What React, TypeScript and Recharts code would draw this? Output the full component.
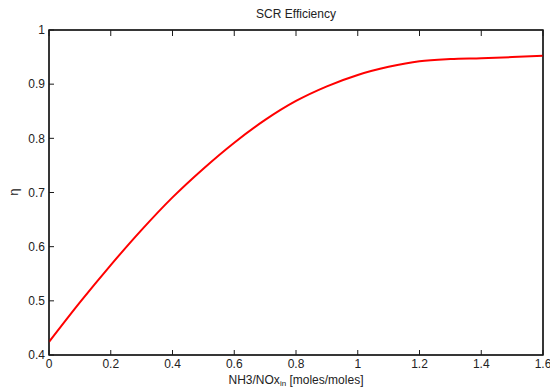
import React from "react";
import { LineChart, Line, XAxis, YAxis, Label, ReferenceArea } from "recharts";

const ratio = [0, 0.1, 0.2, 0.3, 0.4, 0.5, 0.6, 0.7, 0.8, 0.9, 1.0, 1.1, 1.2, 1.3, 1.4, 1.5, 1.6];
const eta = [0.424, 0.497, 0.566, 0.631, 0.691, 0.744, 0.792, 0.834, 0.869, 0.896, 0.917, 0.932, 0.9425, 0.9465, 0.948, 0.950, 0.9525];

const xTicks = [0, 0.2, 0.4, 0.6, 0.8, 1, 1.2, 1.4, 1.6];
const yTicks = [0.4, 0.5, 0.6, 0.7, 0.8, 0.9, 1];

const data = ratio.map((r, i) => ({ r, eta: eta[i] }));

const FONT = "'Liberation Sans', Arial, Helvetica, sans-serif";
const AX = "#1a1a1a";

const fmt = (v: number) => String(Math.round(v * 10) / 10);
const blank = () => "";

export default function App() {
  return (
    <div style={{ position: "absolute", left: 0, top: 0, width: 550, height: 389, background: "#fff" }}>
      <LineChart
        width={550}
        height={389}
        data={data}
        margin={{ top: 29, right: 6, bottom: 4, left: 9 }}
        style={{ fontFamily: FONT }}
      >
        <XAxis
          dataKey="r"
          type="number"
          domain={[0, 1.6]}
          ticks={xTicks}
          tickFormatter={fmt}
          allowDataOverflow
          height={30}
          tickSize={-5}
          tickMargin={9}
          stroke={AX}
          axisLine={true}
          tickLine={true}
          tick={{ fill: "#222", fontSize: 12, fontFamily: FONT }}
          interval={0}
        >
          <Label
            content={(props: any) => {
              const vb = props.viewBox || {};
              const cx = vb.x + vb.width / 2;
              return (
                <text x={cx} y={384} textAnchor="middle" fontSize={12} fill="#222" fontFamily={FONT}>
                  NH3/NOx
                  <tspan fontSize={8} dy={2}>in</tspan>
                  <tspan dy={-2}> [moles/moles]</tspan>
                </text>
              );
            }}
          />
        </XAxis>
        <XAxis
          xAxisId="top"
          dataKey="r"
          type="number"
          orientation="top"
          domain={[0, 1.6]}
          ticks={xTicks}
          height={1}
          tickSize={-6}
          tickFormatter={blank}
          stroke={AX}
          axisLine={true}
          tickLine={true}
          interval={0}
        >
          <Label
            content={(props: any) => {
              const vb = props.viewBox || {};
              const cx = vb.x + vb.width / 2;
              return (
                <text x={cx} y={18} textAnchor="middle" fontSize={12} fill="#222" fontFamily={FONT}>
                  SCR Efficiency
                </text>
              );
            }}
          />
        </XAxis>
        <YAxis
          type="number"
          domain={[0.4, 1]}
          ticks={yTicks}
          tickFormatter={fmt}
          allowDataOverflow
          width={40}
          tickSize={-5}
          tickMargin={9}
          stroke={AX}
          axisLine={true}
          tickLine={true}
          tick={{ fill: "#222", fontSize: 12, fontFamily: FONT }}
          interval={0}
        >
          <Label
            content={() => (
              <text
                x={18}
                y={192}
                textAnchor="middle"
                fontSize={13}
                fill="#222"
                fontFamily={FONT}
                transform="rotate(-90 18 192)"
              >
                η
              </text>
            )}
          />
        </YAxis>
        <YAxis
          yAxisId="right"
          orientation="right"
          type="number"
          domain={[0.4, 1]}
          ticks={yTicks}
          width={1}
          tickSize={-6}
          tickFormatter={blank}
          stroke={AX}
          axisLine={true}
          tickLine={true}
          interval={0}
        />
        <ReferenceArea
          x1={0}
          x2={1.6}
          y1={0.4}
          y2={1}
          fill="none"
          fillOpacity={0}
          stroke={AX}
          strokeWidth={1.5}
          ifOverflow="visible"
        />
        <Line
          type="monotone"
          dataKey="eta"
          stroke="#ff0000"
          strokeWidth={2}
          dot={false}
          isAnimationActive={false}
        />
      </LineChart>
    </div>
  );
}
